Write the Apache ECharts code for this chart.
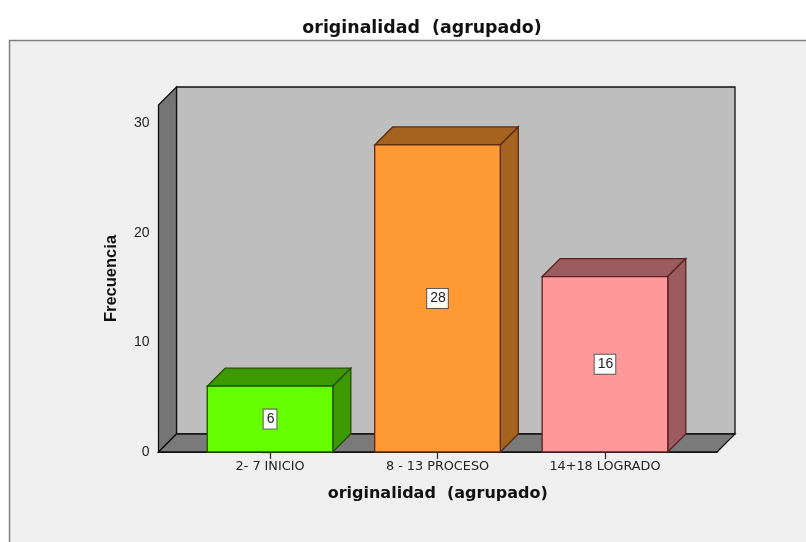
<!DOCTYPE html>
<html><head><meta charset="utf-8">
<style>html,body{margin:0;padding:0;background:#fff}#c{width:806px;height:542px}</style>
<script src="https://cdn.jsdelivr.net/npm/echarts@6/dist/echarts.min.js"></script>
</head><body><div id="c"></div>
<script>
const categories = ['2- 7 INICIO', '8 - 13 PROCESO', '14+18 LOGRADO'];
const frecuencia = [6, 28, 16];
const yTicks = [0, 10, 20, 30];
const faceColors = ['#66ff00', '#ff9933', '#ff9999'];
const sideColors = ['#3d9900', '#a5631f', '#9c5c5f'];
const edgeColors = ['#244d00', '#5a2c10', '#5a2025'];
const depth = 18;
const xMin = -0.666, xMax = 2.669, yMax = 31.64;

function poly(points, fill, stroke, lw) {
  return { type: 'polygon', shape: { points }, style: { fill, stroke, lineWidth: lw, lineJoin: 'miter' } };
}
function renderWalls(params, api) {
  const a = api.coord([xMin, 0]), b = api.coord([xMax, 0]), t = api.coord([xMin, yMax]);
  const d = depth, k = '#111111';
  return { type: 'group', children: [
    poly([[a[0]+d,t[1]-d],[b[0]+d,t[1]-d],[b[0]+d,a[1]-d],[a[0]+d,a[1]-d]], '#bebebe', k, 1.3),
    poly([[a[0],t[1]],[a[0]+d,t[1]-d],[a[0]+d,a[1]-d],[a[0],a[1]]], '#757575', k, 1.3),
    poly([[a[0],a[1]],[a[0]+d,a[1]-d],[b[0]+d,a[1]-d],[b[0],a[1]]], '#7a7a7a', k, 1.3)
  ]};
}
function renderBar(params, api) {
  const i = api.value(0), v = api.value(1);
  const band = api.size([1, 0])[0], w = band * 0.75;
  const p = api.coord([i, v]), o = api.coord([i, 0]), m = api.coord([i, v / 2]);
  const l = p[0] - w / 2, r = p[0] + w / 2, top = p[1], bot = o[1], d = depth;
  const e = edgeColors[i];
  return { type: 'group', children: [
    poly([[l,top],[l+d,top-d],[r+d,top-d],[r,top]], sideColors[i], e, 1.3),
    poly([[r,top],[r+d,top-d],[r+d,bot-d],[r,bot]], sideColors[i], e, 1.3),
    poly([[l,top],[r,top],[r,bot],[l,bot]], faceColors[i], e, 1.3),
    { type: 'text', x: m[0], y: m[1], style: {
        text: String(v), align: 'center', verticalAlign: 'middle',
        font: '14px "Liberation Sans"', fill: '#222222',
        backgroundColor: '#ffffff', borderColor: '#555555', borderWidth: 1,
        padding: [3, 2, 2, 3] } }
  ]};
}
const chart = echarts.init(document.getElementById('c'), null, { renderer: 'canvas' });
chart.setOption({
  animation: false,
  backgroundColor: '#ffffff',
  title: { text: 'originalidad  (agrupado)', left: 417, top: 15, textAlign: 'center',
    textStyle: { fontFamily: 'DejaVu Sans', fontWeight: 'bold', fontSize: 17.4, color: '#111111' } },
  graphic: [{ type: 'rect', z: -10, shape: { x: 9.5, y: 40.5, width: 820, height: 530 },
    style: { fill: '#efefef', stroke: '#7f7f7f', lineWidth: 1.5 } }],
  grid: { left: 158.5, right: 89, top: 105, bottom: 90 },
  xAxis: { type: 'value', min: xMin, max: xMax,
    name: 'originalidad  (agrupado)', nameLocation: 'middle', nameGap: 34,
    nameTextStyle: { fontFamily: 'DejaVu Sans', fontWeight: 'bold', fontSize: 16, color: '#111111' },
    splitLine: { show: false },
    axisLine: { show: true, onZero: false, lineStyle: { color: '#111111' } },
    axisTick: { show: true, length: 7, customValues: [0, 1, 2], lineStyle: { color: '#333333', width: 1.3 } },
    axisLabel: { customValues: [0, 1, 2], margin: 8, formatter: v => categories[v],
      fontFamily: 'DejaVu Sans', fontSize: 12.8, color: '#222222' } },
  yAxis: { type: 'value', min: 0, max: yMax,
    name: 'Frecuencia', nameLocation: 'middle', nameGap: 39, nameRotate: 90,
    nameTextStyle: { fontFamily: 'Liberation Sans', fontWeight: 'bold', fontSize: 16.5, color: '#111111' },
    splitLine: { show: false },
    axisLine: { show: true, lineStyle: { color: '#111111' } },
    axisTick: { show: true, length: 8, customValues: yTicks, lineStyle: { color: '#333333', width: 1.3 } },
    axisLabel: { customValues: yTicks, margin: 9, padding: [5, 0, 0, 0], fontFamily: 'Liberation Sans', fontSize: 14, color: '#222222' } },
  series: [
    { type: 'custom', z: 1, silent: true, renderItem: renderWalls, data: [[0, 0]], clip: false },
    { type: 'custom', z: 2, silent: true, renderItem: renderBar, clip: false,
      encode: { x: 0, y: 1 }, data: frecuencia.map((v, i) => [i, v]) }
  ]
});
</script></body></html>
